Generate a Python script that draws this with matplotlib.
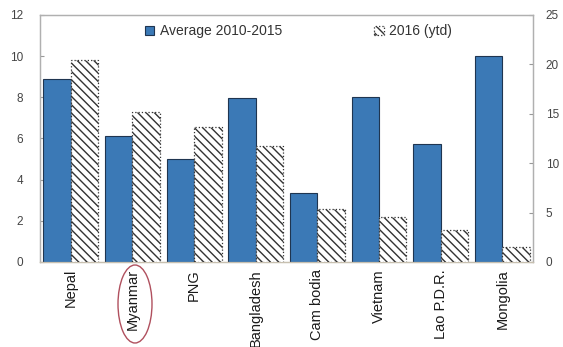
import matplotlib
matplotlib.use("Agg")
import matplotlib.pyplot as plt
from matplotlib.patches import Ellipse
import numpy as np

countries = ["Nepal", "Myanmar", "PNG", "Bangladesh", "Cam bodia", "Vietnam", "Lao P.D.R.", "Mongolia"]
avg_2010_2015 = [8.9, 6.1, 5.0, 7.95, 3.35, 8.0, 5.75, 10.0]   # left axis
ytd_2016 = [20.4, 15.2, 13.7, 11.7, 5.4, 4.6, 3.25, 1.55]      # right axis
left_ticks = [0, 2, 4, 6, 8, 10, 12]
right_ticks = [0, 5, 10, 15, 20, 25]

plt.rcParams["font.family"] = ["Liberation Sans", "DejaVu Sans"]
plt.rcParams["hatch.linewidth"] = 1.0

fig = plt.figure(figsize=(5.63, 3.47), dpi=100)
ax = fig.add_axes([0.071, 0.245, 0.876, 0.712])
ax2 = ax.twinx()

x = np.arange(len(countries))
w = 0.445
blue = "#3b79b6"
ax.bar(x - w / 2, avg_2010_2015, width=w, color=blue, edgecolor="#1f3550",
       linewidth=0.8, label="Average 2010-2015", zorder=3)
plt.rcParams["hatch.color"] = "#969696"
ax2.bar(x + w / 2, ytd_2016, width=w, color="white", edgecolor="#333333",
        linewidth=0.9, linestyle=":", hatch="\\\\\\\\", label="2016 (ytd)", zorder=3)

ax.set_xlim(-0.5, len(countries) - 0.5)
ax.set_ylim(0, 12)
ax2.set_ylim(0, 25)
ax.set_yticks(left_ticks)
ax2.set_yticks(right_ticks)
ax.set_xticks(x)
ax.set_xticklabels(countries, rotation=90, fontsize=10.5, color="#1a1a1a")
ax.tick_params(axis="x", length=0, pad=5)
ax.tick_params(axis="y", direction="in", length=3, color="#999999",
               labelsize=8.5, labelcolor="#444444", pad=12)
ax2.tick_params(axis="y", direction="in", length=3, color="#999999",
                labelsize=8.5, labelcolor="#444444", pad=9)

for a in (ax, ax2):
    for s in a.spines.values():
        s.set_color("#b0b0b0")
        s.set_linewidth(0.9)
    a.spines["bottom"].set_color("#c8c0b0")

h1, l1 = ax.get_legend_handles_labels()
h2, l2 = ax2.get_legend_handles_labels()
leg = ax2.legend(h1 + h2, l1 + l2, ncol=2, loc="upper left",
                 bbox_to_anchor=(0.187, 1.012), frameon=False, fontsize=10,
                 handlelength=0.7, handleheight=0.7, handletextpad=0.4,
                 columnspacing=6.6, borderaxespad=0.5)
for t in leg.get_texts():
    t.set_color("#333333")

# Highlight the Myanmar label
ell = Ellipse((135 / 563, 1 - 304 / 347), 34 / 563, 78 / 347,
              transform=fig.transFigure, fill=False, edgecolor="#b0505e", linewidth=1.0)
fig.add_artist(ell)

fig.savefig("out.png", dpi=100)
